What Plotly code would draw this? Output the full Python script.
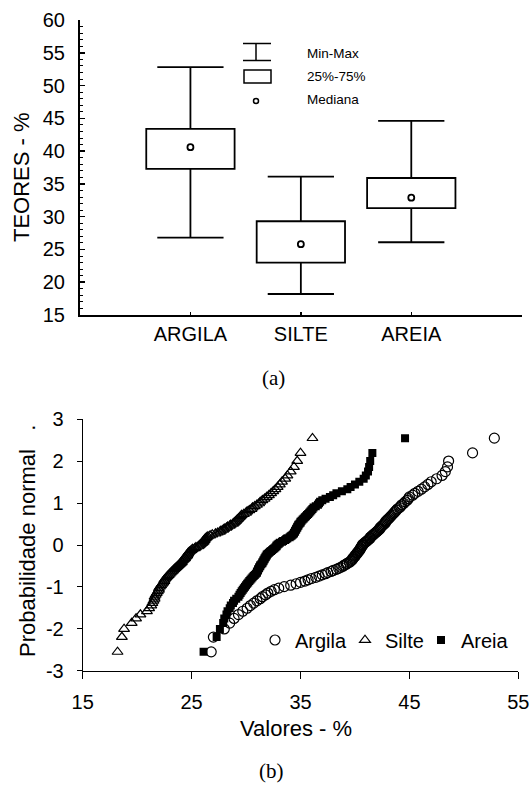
import plotly.graph_objects as go
from statistics import NormalDist

# ---------------- data ----------------
categories = ["ARGILA", "SILTE", "AREIA"]
val_min = [26.8, 18.2, 26.1]
val_q1 = [37.3, 23.0, 31.3]
val_median = [40.6, 25.8, 32.9]
val_q3 = [43.4, 29.3, 35.9]
val_max = [52.8, 36.1, 44.6]

argila = [
    26.8, 27.0, 28.0, 28.5, 28.9, 29.3, 29.7, 30.1, 30.4, 30.7,
    31.0, 31.3, 31.5, 31.8, 32.0, 32.3, 32.6, 33.0, 33.5, 34.1,
    34.6, 35.0, 35.4, 35.7, 36.0, 36.4, 36.7, 37.0, 37.3, 37.5,
    37.8, 38.0, 38.3, 38.5, 38.7, 38.9, 39.0, 39.2, 39.3, 39.5,
    39.6, 39.7, 39.8, 39.8, 39.9, 40.0, 40.0, 40.1, 40.2, 40.2,
    40.3, 40.4, 40.4, 40.5, 40.5, 40.6, 40.6, 40.7, 40.7, 40.8,
    40.9, 41.0, 41.1, 41.2, 41.3, 41.4, 41.4, 41.5, 41.6, 41.7,
    41.8, 41.9, 42.0, 42.1, 42.2, 42.3, 42.3, 42.4, 42.5, 42.6,
    42.7, 42.8, 42.8, 42.9, 43.0, 43.1, 43.2, 43.3, 43.4, 43.5,
    43.6, 43.7, 43.8, 43.9, 44.1, 44.2, 44.3, 44.5, 44.6, 44.8,
    44.9, 45.0, 45.3, 45.5, 45.8, 46.1, 46.4, 46.7, 47.0, 47.5,
    48.0, 48.3, 48.5, 48.6, 50.8, 52.8,
]
silte = [
    18.2, 18.6, 18.8, 19.5, 19.9, 20.3, 20.9, 21.1, 21.3, 21.4,
    21.5, 21.6, 21.6, 21.7, 21.8, 21.9, 22.0, 22.0, 22.1, 22.2,
    22.3, 22.4, 22.5, 22.5, 22.6, 22.7, 22.8, 22.9, 23.0, 23.1,
    23.2, 23.3, 23.4, 23.5, 23.6, 23.7, 23.8, 23.9, 24.0, 24.1,
    24.1, 24.2, 24.3, 24.4, 24.4, 24.5, 24.6, 24.6, 24.7, 24.7,
    24.8, 24.9, 25.0, 25.1, 25.3, 25.4, 25.6, 25.7, 25.8, 25.9,
    26.0, 26.1, 26.1, 26.2, 26.2, 26.3, 26.4, 26.5, 26.7, 26.9,
    27.2, 27.4, 27.6, 27.7, 27.9, 28.0, 28.2, 28.3, 28.5, 28.6,
    28.8, 28.9, 29.0, 29.1, 29.2, 29.3, 29.4, 29.5, 29.6, 29.8,
    30.0, 30.1, 30.3, 30.5, 30.6, 30.8, 31.0, 31.2, 31.3, 31.5,
    31.7, 31.9, 32.1, 32.3, 32.5, 32.7, 32.9, 33.1, 33.3, 33.6,
    33.8, 34.1, 34.4, 34.7, 35.0, 36.1,
]
areia = [
    26.1, 27.3, 27.6, 27.9, 28.0, 28.2, 28.3, 28.5, 28.6, 28.8,
    28.9, 29.1, 29.3, 29.4, 29.5, 29.6, 29.7, 29.8, 29.9, 30.0,
    30.1, 30.2, 30.3, 30.4, 30.5, 30.6, 30.7, 30.8, 30.9, 31.0,
    31.0, 31.1, 31.1, 31.2, 31.2, 31.3, 31.3, 31.4, 31.5, 31.5,
    31.6, 31.6, 31.7, 31.7, 31.8, 31.8, 31.9, 31.9, 32.0, 32.1,
    32.2, 32.3, 32.4, 32.5, 32.6, 32.7, 32.8, 32.8, 32.9, 33.0,
    33.1, 33.3, 33.4, 33.6, 33.7, 33.8, 34.0, 34.1, 34.2, 34.3,
    34.4, 34.4, 34.5, 34.5, 34.6, 34.6, 34.7, 34.7, 34.8, 34.8,
    34.9, 35.0, 35.0, 35.1, 35.2, 35.3, 35.4, 35.5, 35.6, 35.7,
    35.8, 35.9, 36.0, 36.1, 36.2, 36.4, 36.6, 36.7, 36.8, 37.0,
    37.3, 37.7, 38.0, 38.3, 38.8, 39.3, 39.6, 40.0, 40.4, 40.8,
    41.0, 41.2, 41.3, 41.4, 41.6, 44.6,
]

box_tick_vals = [-1, 0, 1, 2, 3]
box_tick_text = ["", "ARGILA", "SILTE", "AREIA", ""]
prob_x_ticks = [15, 25, 35, 45, 55]
prob_y_ticks = [-3, -2, -1, 0, 1, 2, 3]
prob_y_text = ["-3", "-2", "-1", "0", "1", "2", "3"]

W, H = 532, 787
FONT = "Liberation Sans, Arial, Helvetica, sans-serif"
SERIF = "Liberation Serif, Times New Roman, serif"


def px(x):
    return x / W


def py(y):
    return 1 - y / H


def normal_scores(values):
    n = len(values)
    nd = NormalDist()
    return [nd.inv_cdf((i + 1 - 0.375) / (n + 0.25)) for i in range(n)]


fig = go.Figure()

# ---------------- (a) box plot ----------------
pos = list(range(len(categories)))
fig.add_trace(go.Bar(
    x=pos, y=[b - a for a, b in zip(val_q1, val_q3)], base=val_q1,
    width=0.8, marker=dict(color="white", line=dict(color="black", width=1.8)),
    showlegend=False, hoverinfo="skip", xaxis="x", yaxis="y",
))
wx, wy = [], []
half_cap = 0.3
for i, p in enumerate(pos):
    wx += [p, p, None, p, p, None,
           p - half_cap, p + half_cap, None, p - half_cap, p + half_cap, None]
    wy += [val_q3[i], val_max[i], None, val_min[i], val_q1[i], None,
           val_max[i], val_max[i], None, val_min[i], val_min[i], None]
fig.add_trace(go.Scatter(
    x=wx, y=wy, mode="lines", line=dict(color="black", width=1.8),
    showlegend=False, hoverinfo="skip", xaxis="x", yaxis="y",
))
fig.add_trace(go.Scatter(
    x=pos, y=val_median, mode="markers",
    marker=dict(symbol="circle-open", size=6, color="black", line=dict(width=1.8, color="black")),
    showlegend=False, xaxis="x", yaxis="y",
))

# ---------------- (b) normal probability plot ----------------
fig.add_trace(go.Scatter(
    x=argila, y=normal_scores(argila), mode="markers", name="Argila", legendwidth=45,
    marker=dict(symbol="circle-open", size=10, color="black", line=dict(width=1.2, color="black")),
    xaxis="x2", yaxis="y2",
))
fig.add_trace(go.Scatter(
    x=silte, y=normal_scores(silte), mode="markers", name="Silte", legendwidth=31,
    marker=dict(symbol="triangle-up-open", size=9.5, color="black", line=dict(width=1.2, color="black")),
    xaxis="x2", yaxis="y2",
))
fig.add_trace(go.Scatter(
    x=areia, y=normal_scores(areia), mode="markers", name="Areia", legendwidth=56,
    marker=dict(symbol="square", size=8, color="black"),
    xaxis="x2", yaxis="y2",
))

axis_common = dict(showgrid=False, zeroline=False, showline=True, linecolor="black",
                   automargin=False, tickcolor="black",
                   tickfont=dict(family=FONT, size=20, color="black"))

fig.update_layout(
    width=W, height=H, autosize=False,
    margin=dict(l=0, r=0, t=0, b=0, autoexpand=False),
    paper_bgcolor="white", plot_bgcolor="white",
    font=dict(family=FONT, color="black"),
    bargap=0,
    xaxis=dict(domain=[px(80), px(521.7)], range=[-1, 3], anchor="y",
               tickmode="array", tickvals=box_tick_vals, ticktext=box_tick_text,
               ticks="inside", ticklen=3, tickwidth=1.5, linewidth=2,
               ticklabelstandoff=0, **axis_common),
    yaxis=dict(domain=[py(315), py(20)], range=[15, 60], anchor="x",
               dtick=5, ticks="inside", ticklen=5, tickwidth=1.5, linewidth=2,
               minor=dict(ticks="inside", ticklen=3, dtick=1, tickcolor="black", tickwidth=1),
               ticklabelstandoff=9, **axis_common),
    xaxis2=dict(domain=[px(82.7), px(518.3)], range=[15, 55], anchor="y2",
                tickmode="array", tickvals=prob_x_ticks,
                ticks="outside", ticklen=7, tickwidth=1, linewidth=1,
                ticklabelstandoff=6, **axis_common),
    yaxis2=dict(domain=[py(670.7), py(419.3)], range=[-3, 3], anchor="x2",
                tickmode="array", tickvals=prob_y_ticks, ticktext=prob_y_text,
                ticks="outside", ticklen=5, tickwidth=1, linewidth=1,
                ticklabelstandoff=9, **axis_common),
    showlegend=True,
    legend=dict(orientation="h", x=px(255), xanchor="left", y=py(640), yanchor="middle",
                font=dict(family=FONT, size=20, color="black"), bgcolor="rgba(0,0,0,0)",
                entrywidthmode="pixels", itemclick=False, itemdoubleclick=False),
)

# legend of the box plot, drawn with shapes and text
lw = 1.5
shapes = [
    dict(type="line", x0=px(243), x1=px(271), y0=py(43.5), y1=py(43.5)),
    dict(type="line", x0=px(243), x1=px(271), y0=py(60.5), y1=py(60.5)),
    dict(type="line", x0=px(256), x1=px(256), y0=py(43.5), y1=py(60.5)),
    dict(type="rect", x0=px(244), x1=px(271), y0=py(70), y1=py(83)),
    dict(type="circle", x0=px(253.5), x1=px(258.5), y0=py(98.5), y1=py(103.5)),
]
for s in shapes:
    s.update(xref="paper", yref="paper", line=dict(color="black", width=lw))
fig.update_layout(shapes=shapes)

annotations = [
    dict(text="Min-Max", x=px(305), y=py(53), xanchor="left", yanchor="middle",
         font=dict(family=FONT, size=13.5)),
    dict(text="25%-75%", x=px(305), y=py(77), xanchor="left", yanchor="middle",
         font=dict(family=FONT, size=13.5)),
    dict(text="Mediana", x=px(305), y=py(100), xanchor="left", yanchor="middle",
         font=dict(family=FONT, size=13.5)),
    dict(text="TEORES - %", x=px(22), y=py(177), textangle=-90, xanchor="center", yanchor="middle",
         font=dict(family=FONT, size=22)),
    dict(text="(a)", x=px(273), y=py(378), xanchor="center", yanchor="middle",
         font=dict(family=SERIF, size=21)),
    dict(text="Probabilidade normal\u00a0\u00a0\u00a0.", x=px(27), y=py(541), textangle=-90,
         xanchor="center", yanchor="middle", font=dict(family=FONT, size=22)),
    dict(text="Valores - %", x=px(296), y=py(728), xanchor="center", yanchor="middle",
         font=dict(family=FONT, size=22)),
    dict(text="(b)", x=px(271), y=py(771), xanchor="center", yanchor="middle",
         font=dict(family=SERIF, size=21)),
]
for a in annotations:
    a.update(xref="paper", yref="paper", showarrow=False)
    a["font"]["color"] = "black"
fig.update_layout(annotations=annotations)

fig.write_html(
    "out.html",
    config={"displayModeBar": False, "staticPlot": True},
    post_script="document.body.style.margin='0px';document.body.style.padding='0px';",
)
